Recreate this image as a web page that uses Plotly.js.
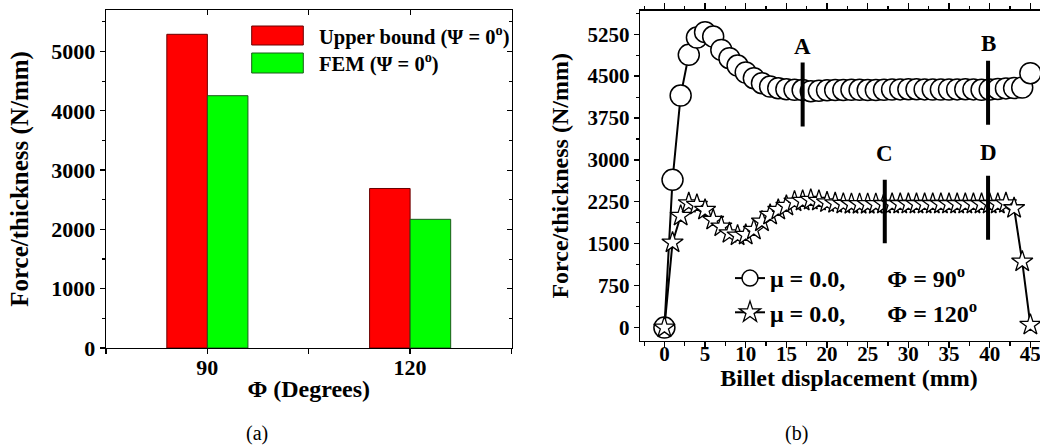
<!DOCTYPE html>
<html>
<head>
<meta charset="utf-8">
<script src="https://cdn.plot.ly/plotly-3.0.1.min.js"></script>
<style>
html,body{margin:0;padding:0;background:#fff;overflow:hidden;width:1040px;height:446px;}
#chart{width:1060px;height:446px;}
</style>
</head>
<body>
<div id="chart"></div>
<script>
// ---- Panel (a) data ----
const phiDegrees = [90, 120];
const phiTickVals = [90, 120];
const phiTickText = ['90', '120'];
const upperBound = [5290, 2690];
const femForce = [4255, 2170];
const legendA = ['Upper bound (\u03A8 = 0<sup>o</sup>)', 'FEM (\u03A8 = 0<sup>o</sup>)'];

// ---- Panel (b) data ----
const displacement = [0,1,2,3,4,5,6,7,8,9,10,11,12,13,14,15,16,17,18,19,20,21,22,23,24,25,26,27,28,29,30,31,32,33,34,35,36,37,38,39,40,41,42,43,44,45];
const force90 = [0,2643,4152,4880,5190,5286,5208,4969,4820,4689,4564,4462,4373,4313,4283,4265,4254,4250,4230,4236,4245,4250,4252,4255,4255,4250,4250,4255,4260,4262,4265,4265,4262,4260,4258,4260,4262,4265,4262,4255,4258,4270,4280,4285,4295,4552];
const force120 = [0,1521,1999,2225,2195,2106,1927,1808,1688,1647,1659,1748,1897,2016,2106,2178,2255,2267,2285,2267,2240,2225,2215,2210,2210,2210,2210,2212,2212,2212,2212,2212,2212,2212,2212,2212,2212,2212,2212,2212,2212,2212,2225,2136,1181,48];
const seriesNames = ['\u03BC = 0.0,\u00A0\u00A0\u00A0\u00A0\u00A0\u00A0\u00A0\u03A6 = 90<sup>o</sup>', '\u03BC = 0.0,\u00A0\u00A0\u00A0\u00A0\u00A0\u00A0\u00A0\u03A6 = 120<sup>o</sup>'];
const markLabels = ['A', 'B', 'C', 'D'];
const markX = [17, 39.8, 27.1, 39.8];
const markLow = [3600, 3630, 1510, 1570];
const markHigh = [4745, 4775, 2645, 2715];
const markLabelY = [5030, 5090, 3120, 3130];

const FAM = 'Liberation Serif';
const W = 1060, H = 446;
const px = v => v / W;
const py = v => 1 - v / H;

const traces = [
  {type:'bar', x: phiDegrees, y: upperBound, width: 6, offset: -6, xaxis:'x', yaxis:'y',
   marker:{color:'#ff0000', line:{color:'#6a0000', width:1}}, showlegend:false, hoverinfo:'skip'},
  {type:'bar', x: phiDegrees, y: femForce, width: 6, offset: 0, xaxis:'x', yaxis:'y',
   marker:{color:'#00ff00', line:{color:'#1a5a1a', width:1}}, showlegend:false, hoverinfo:'skip'},
  {type:'scatter', x: [], y: [], xaxis:'x3', yaxis:'y3', showlegend:false, hoverinfo:'skip'},
  {type:'scatter', mode:'lines+markers', x: displacement, y: force90, xaxis:'x2', yaxis:'y2',
   name: seriesNames[0], line:{color:'#000', width:2},
   marker:{symbol:'circle', size:21, color:'#fff', line:{color:'#000', width:1.5}}, hoverinfo:'skip'},
  {type:'scatter', mode:'lines+markers', x: displacement, y: force120, xaxis:'x2', yaxis:'y2',
   name: seriesNames[1], line:{color:'#000', width:2},
   marker:{symbol:'star', size:16, color:'#fff', line:{color:'#000', width:1.3}}, hoverinfo:'skip'}
];

const shapes = [];
const annotations = [];
for (let i = 0; i < markLabels.length; i++) {
  shapes.push({type:'line', xref:'x2', yref:'y2', x0: markX[i], x1: markX[i], y0: markLow[i], y1: markHigh[i],
    line:{color:'#000', width:4}});
  annotations.push({xref:'x2', yref:'y2', x: markX[i], y: markLabelY[i], text: markLabels[i], showarrow:false,
    xanchor:'center', yanchor:'middle',
    font:{family:FAM, size:23, color:'#000', weight:'bold'}});
}
const legColors = ['#ff0000', '#00ff00'];
const legLines = ['#6a0000', '#1a5a1a'];
const legTop = [26, 53], legBot = [45, 73];
for (let i = 0; i < 2; i++) {
  shapes.push({type:'rect', xref:'paper', yref:'paper', x0: px(251.7), x1: px(303.3), y0: py(legBot[i]), y1: py(legTop[i]),
    fillcolor: legColors[i], line:{color: legLines[i], width:1}});
  annotations.push({xref:'paper', yref:'paper', x: px(317), y: py((legTop[i] + legBot[i]) / 2), xanchor:'left', yanchor:'middle',
    text: legendA[i], showarrow:false, font:{family:FAM, size:20.5, color:'#000', weight:'bold'}});
}
annotations.push({xref:'paper', yref:'paper', x: px(256.7), y: py(433), xanchor:'center', yanchor:'middle', text:'(a)', showarrow:false,
  font:{family:FAM, size:20, color:'#000'}});
annotations.push({xref:'paper', yref:'paper', x: px(796.7), y: py(433), xanchor:'center', yanchor:'middle', text:'(b)', showarrow:false,
  font:{family:FAM, size:20, color:'#000'}});

const tickFontA = {family:FAM, size:22, color:'#000', weight:'bold'};
const tickFontB = {family:FAM, size:21, color:'#000', weight:'bold'};
const titleFont = {family:FAM, size:24, color:'#000', weight:'bold'};

const layout = {
  width: W, height: H,
  margin:{l:0, r:0, t:0, b:0},
  font:{family:FAM, color:'#000'},
  paper_bgcolor:'#fff', plot_bgcolor:'#fff',
  hovermode:false,
  barmode:'overlay',
  showlegend:true,
  legend:{x: px(730), y: py(256), xanchor:'left', yanchor:'top', bgcolor:'rgba(0,0,0,0)',
    font:{family:FAM, size:24, color:'#000', weight:'bold'}, tracegroupgap:0, itemwidth:30},
  xaxis:{domain:[px(106), px(511.5)], anchor:'y', range:[75, 135], tickmode:'array',
    tickvals: phiTickVals, ticktext: phiTickText, ticks:'outside', ticklen:5, tickwidth:1.3, tickcolor:'#000',
    minor:{tick0:75, dtick:15, ticks:'outside', ticklen:5, tickwidth:1.3, tickcolor:'#000'},
    ticklabelstandoff:-6,
    showline:true, linecolor:'#000', linewidth:1.3, mirror:true, showgrid:false, zeroline:false,
    tickfont: tickFontA, title:{text:'\u03A6 (Degrees)', font: titleFont, standoff:1}},
  yaxis:{domain:[py(348), py(10)], anchor:'x', range:[0, 5700], dtick:1000, tick0:0,
    ticks:'outside', ticklen:5, tickwidth:1.3, tickcolor:'#000',
    minor:{dtick:500, ticks:'outside', ticklen:3, tickwidth:1.1, tickcolor:'#000'},
    showline:true, linecolor:'#000', linewidth:1.3, mirror:true, showgrid:false, zeroline:false,
    tickfont: tickFontA, title:{text:'Force/thickness (N/mm)', font:{family:FAM, size:25, color:'#000', weight:'bold'}, standoff:15}},
  xaxis3:{overlaying:'x', side:'top', anchor:'y', range:[75, 135], tickmode:'array', tickvals:[90, 105, 120],
    ticks:'inside', ticklen:5, tickwidth:1.1, tickcolor:'#000', showticklabels:false, showline:false,
    showgrid:false, zeroline:false},
  yaxis3:{overlaying:'y', side:'right', anchor:'x', range:[0, 5700], dtick:1000, tick0:0,
    ticks:'inside', ticklen:5, tickwidth:1.1, tickcolor:'#000',
    minor:{dtick:500, ticks:'inside', ticklen:3, tickwidth:1, tickcolor:'#000'},
    showticklabels:false, showline:false, showgrid:false, zeroline:false},
  xaxis2:{domain:[px(640), px(1058)], anchor:'y2', range:[-3, 48.4], dtick:5, tick0:0,
    ticks:'outside', ticklen:6, tickwidth:1.3, tickcolor:'#000',
    minor:{dtick:2.5, ticks:'outside', ticklen:3.5, tickwidth:1.1, tickcolor:'#000'},
    ticklabelstandoff:-13,
    showline:true, linecolor:'#000', linewidth:1.3, mirror:'allticks', showgrid:false, zeroline:false,
    tickfont: tickFontB, title:{text:'Billet displacement (mm)', font: titleFont, standoff:4}},
  yaxis2:{domain:[py(341), py(10.7)], anchor:'x2', range:[-240, 5670], dtick:750, tick0:0,
    ticks:'outside', ticklen:5, tickwidth:1.3, tickcolor:'#000',
    minor:{dtick:375, ticks:'outside', ticklen:3, tickwidth:1.1, tickcolor:'#000'},
    showline:true, linecolor:'#000', linewidth:1.3, mirror:'allticks', showgrid:false, zeroline:false,
    tickfont: tickFontB, title:{text:'Force/thickness (N/mm)', font: titleFont, standoff:12}},
  shapes: shapes,
  annotations: annotations
};

Plotly.newPlot('chart', traces, layout, {displayModeBar:false, staticPlot:true});
</script>
</body>
</html>
